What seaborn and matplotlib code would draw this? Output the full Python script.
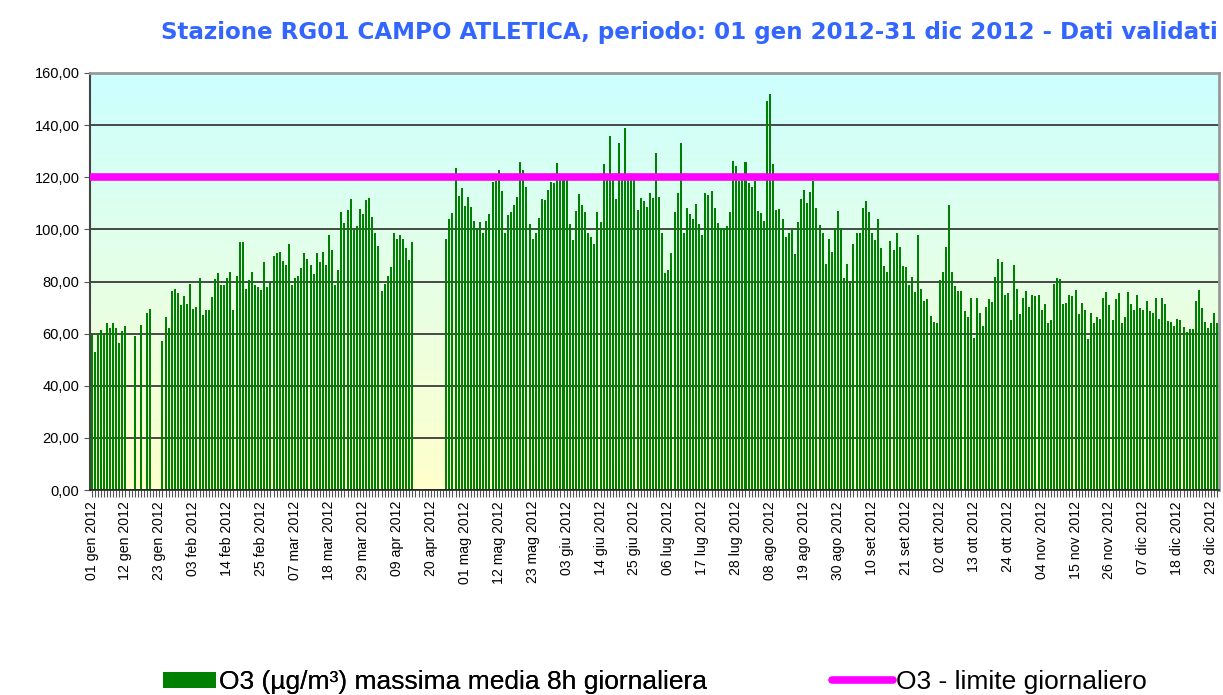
import numpy as np
import pandas as pd
import seaborn as sns
import matplotlib.pyplot as plt
from matplotlib.colors import LinearSegmentedColormap
from matplotlib.patches import Patch
from matplotlib.lines import Line2D

nan = np.nan

# O3 massima media 8h giornaliera, 01 gen 2012 - 31 dic 2012 (366 giorni)
o3_max8h = [
    59.9, 52.8, 59.9, 61.2, 60.0, 64.2, 62.0, 64.2, 62.0, 56.3, 60.9, 63.1, nan, nan, 59.2, nan,
    63.5, nan, 68.0, 69.6, nan, nan, nan, 57.0, 66.2, 62.0, 76.5, 77.3, 75.5, 70.8, 74.6, 71.5,
    79.2, 69.6, 70.4, 81.2, 67.3, 69.2, 69.2, 74.2, 80.8, 83.1, 78.8, 78.8, 81.5, 83.5, 69.2, 82.3,
    95.0, 95.0, 77.3, 80.4, 83.5, 78.5, 77.7, 76.9, 87.3, 77.7, 80.0, 89.6, 90.8, 91.5, 87.7, 86.5,
    94.2, 78.8, 81.2, 82.3, 85.0, 90.8, 88.8, 86.5, 82.7, 90.8, 87.3, 91.2, 86.5, 98.0, 91.9, 78.8,
    84.6, 106.5, 102.3, 107.3, 111.5, 99.6, 101.2, 107.7, 105.8, 111.2, 111.9, 104.6, 98.8, 93.5, 76.5, 79.2,
    82.3, 85.4, 98.5, 96.2, 98.0, 96.2, 92.7, 88.1, 95.0, nan, nan, nan, nan, nan, nan, nan,
    nan, nan, nan, 96.2, 103.8, 106.2, 123.5, 112.7, 115.8, 108.8, 112.3, 108.5, 103.1, 100.0, 102.7, 98.8,
    103.1, 105.8, 118.1, 118.5, 122.7, 114.6, 98.8, 105.4, 106.5, 109.2, 112.3, 125.8, 122.7, 116.2, 101.9, 96.2,
    98.8, 104.2, 111.5, 111.2, 115.0, 118.1, 117.7, 125.4, 119.0, 119.0, 120.0, 101.9, 95.8, 106.9, 113.5, 109.2,
    106.5, 98.8, 96.9, 94.2, 106.5, 102.7, 125.0, 120.0, 135.8, 120.0, 111.5, 133.0, 120.0, 138.8, 120.0, 120.0,
    119.0, 107.3, 111.9, 110.8, 108.5, 113.8, 111.9, 129.2, 112.3, 98.5, 83.1, 84.6, 90.8, 106.5, 113.8, 133.0,
    98.8, 108.1, 105.8, 103.8, 109.6, 101.9, 98.0, 113.8, 113.1, 114.6, 108.1, 102.3, 100.4, 100.4, 101.2, 106.5,
    126.2, 124.2, 118.5, 119.0, 125.8, 117.7, 116.2, 118.5, 106.9, 106.2, 103.1, 149.2, 151.9, 125.0, 107.3, 107.7,
    103.8, 96.9, 98.5, 99.6, 90.4, 102.7, 111.5, 115.0, 110.0, 114.2, 118.5, 108.1, 101.5, 98.8, 86.9, 96.2,
    91.5, 100.4, 106.9, 100.4, 81.2, 86.9, 79.6, 94.2, 98.8, 98.5, 108.1, 110.8, 106.5, 98.8, 95.8, 103.8,
    92.7, 85.8, 83.8, 95.4, 91.9, 98.8, 93.1, 85.8, 85.4, 78.8, 81.9, 75.8, 98.0, 77.3, 72.7, 73.1,
    66.9, 64.6, 64.2, 80.4, 83.8, 93.1, 109.2, 83.8, 78.1, 76.2, 76.5, 68.8, 66.5, 73.5, 58.5, 73.8,
    68.1, 63.1, 70.4, 73.1, 72.3, 81.9, 88.5, 87.3, 75.0, 75.4, 65.4, 86.5, 77.3, 67.7, 73.8, 76.2,
    70.4, 75.0, 74.6, 75.0, 69.2, 71.5, 64.2, 65.4, 79.2, 81.2, 80.8, 71.5, 71.9, 75.0, 74.6, 76.9,
    67.7, 71.9, 69.2, 58.1, 68.1, 64.2, 66.5, 65.8, 73.5, 75.8, 70.8, 65.4, 73.1, 75.4, 64.2, 66.2,
    75.8, 71.2, 69.2, 75.0, 70.0, 69.2, 72.7, 68.5, 68.1, 73.8, 65.8, 73.5, 71.5, 65.0, 64.6, 63.1,
    65.8, 65.4, 62.7, 60.8, 61.9, 61.9, 72.7, 76.9, 70.0, 64.6, 62.3, 64.2, 68.1, 64.2,
]
limite_giornaliero = 120

tick_days = list(range(0, 366, 11))
tick_labels = [
    "01 gen 2012", "12 gen 2012", "23 gen 2012", "03 feb 2012", "14 feb 2012", "25 feb 2012",
    "07 mar 2012", "18 mar 2012", "29 mar 2012", "09 apr 2012", "20 apr 2012", "01 mag 2012",
    "12 mag 2012", "23 mag 2012", "03 giu 2012", "14 giu 2012", "25 giu 2012", "06 lug 2012",
    "17 lug 2012", "28 lug 2012", "08 ago 2012", "19 ago 2012", "30 ago 2012", "10 set 2012",
    "21 set 2012", "02 ott 2012", "13 ott 2012", "24 ott 2012", "04 nov 2012", "15 nov 2012",
    "26 nov 2012", "07 dic 2012", "18 dic 2012", "29 dic 2012",
]
y_ticks = list(range(0, 161, 20))

df = pd.DataFrame({"giorno": np.arange(len(o3_max8h)), "o3": o3_max8h}).dropna()

sns.set_style("white")
plt.rcParams["font.family"] = ["Liberation Sans", "DejaVu Sans"]
plt.rcParams["text.color"] = "black"

fig = plt.figure(figsize=(12.23, 6.95), dpi=100)
ax = fig.add_axes([90 / 1223, 205 / 695, 1129 / 1223, 417 / 695])

# sfondo sfumato giallo -> azzurro
bg = LinearSegmentedColormap.from_list("bg", ["#FFFFCC", "#E6FFE6", "#CCFFFF"])
ax.imshow(np.linspace(0, 1, 256).reshape(-1, 1), aspect="auto", cmap=bg,
          extent=[-0.5, 365.5, 0, 160], origin="lower", zorder=0)

sns.barplot(data=df, x="giorno", y="o3", native_scale=True, color="#008000",
            saturation=1, width=0.65, errorbar=None, linewidth=0, ax=ax, zorder=2)

ax.axhline(limite_giornaliero, color="#FF00FF", lw=5.5, zorder=3)

ax.set_xlim(-0.5, 365.5)
ax.set_ylim(0, 160)
ax.yaxis.grid(True, color="#2b2b2b", lw=1.2)
ax.set_axisbelow(True)

ax.set_xticks(tick_days, tick_labels, rotation=90, fontsize=10.2, color="black")
ax.set_xticks(range(366), minor=True)
ax.set_yticks(y_ticks, [f"{v:.2f}".replace(".", ",") for v in y_ticks], fontsize=10.5, color="black")
ax.tick_params(axis="x", which="both", direction="out", length=5, width=0.8,
               color="#555555", bottom=True, pad=3)
ax.tick_params(axis="y", direction="out", length=4, width=0.8, color="#555555", left=True)
ax.set_xlabel("")
ax.set_ylabel("")

for side in ["top", "right"]:
    ax.spines[side].set_color("#999999")
    ax.spines[side].set_linewidth(2)
ax.spines["left"].set_color("#444444")
ax.spines["left"].set_linewidth(1.5)
ax.spines["bottom"].set_color("#222222")
ax.spines["bottom"].set_linewidth(1.2)

fig.text(1218 / 1223, 1 - 32 / 695, "Stazione RG01 CAMPO ATLETICA, periodo: 01 gen 2012-31 dic 2012 - Dati validati",
         ha="right", va="center", fontsize=16.6, fontweight="bold", color="#3366FF",
         family=["DejaVu Sans"])

leg1 = fig.legend(handles=[Patch(facecolor="#008000", edgecolor="none",
                                 label="O3 (µg/m³) massima media 8h giornaliera")],
                  loc="center left", bbox_to_anchor=(163 / 1223, 1 - 682 / 695),
                  frameon=False, fontsize=19, handlelength=2.0, handleheight=0.55,
                  handletextpad=0.12, borderpad=0, borderaxespad=0)
fig.legend(handles=[Line2D([], [], color="#FF00FF", lw=5.5, label="O3 - limite giornaliero")],
           loc="center left", bbox_to_anchor=(832 / 1223, 1 - 682 / 695),
           frameon=False, fontsize=19, handlelength=2.3,
           handletextpad=0.12, borderpad=0, borderaxespad=0)
fig.add_artist(leg1)

fig.savefig("out.png", dpi=100)
